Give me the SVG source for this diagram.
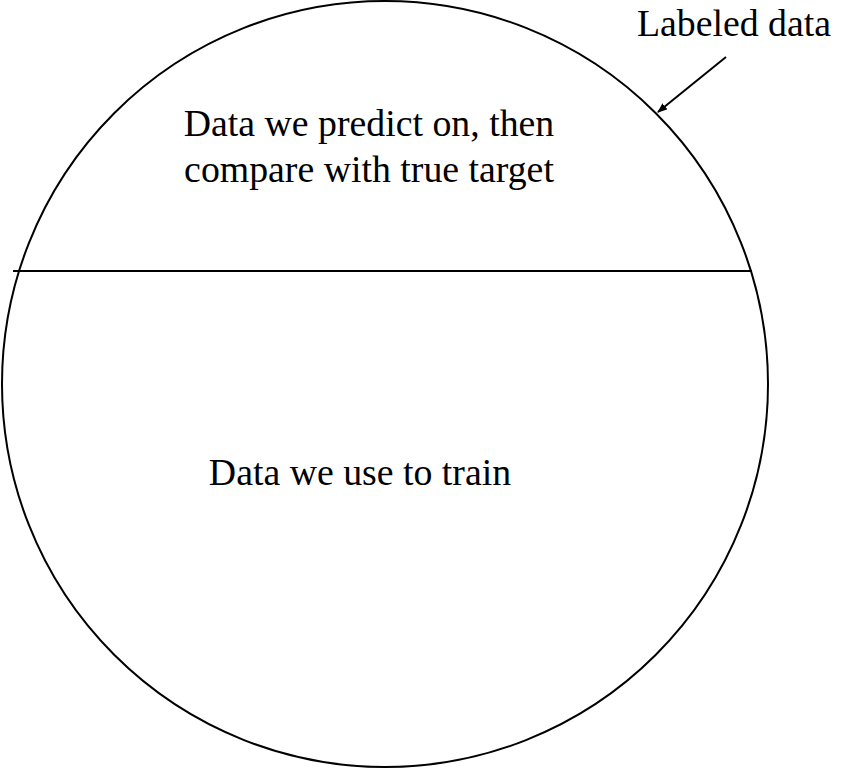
<svg xmlns="http://www.w3.org/2000/svg" width="861" height="770" viewBox="0 0 861 770">
<style>
.ln{fill:none;stroke:#000;stroke-width:2}
.t{font-family:"Liberation Serif","Times New Roman",serif;font-size:37.8px;fill:#000;text-anchor:middle}
</style>
<defs>
<marker id="ah" markerWidth="10" markerHeight="8" refX="9" refY="4" orient="auto" markerUnits="userSpaceOnUse" viewBox="0 0 10 8">
<path d="M0,0 L10,4 L0,8 Z" fill="#000"/>
</marker>
</defs>
<rect width="861" height="770" fill="#fff"/>
<g id="labeled-data">
<circle class="ln" cx="385" cy="384" r="383"/>
<text class="t" x="734" y="36">Labeled data</text>
</g>
<g id="test-region">
<text class="t" x="369" y="136">Data we predict on, then</text>
<text class="t" x="369" y="182">compare with true target</text>
</g>
<g id="train-region">
<text class="t" x="360" y="485">Data we use to train</text>
</g>
<g id="connectors">
<line class="ln" x1="13" y1="271" x2="752" y2="271"/>
<line class="ln" x1="726" y1="57" x2="658" y2="112" marker-end="url(#ah)"/>
</g>
</svg>
